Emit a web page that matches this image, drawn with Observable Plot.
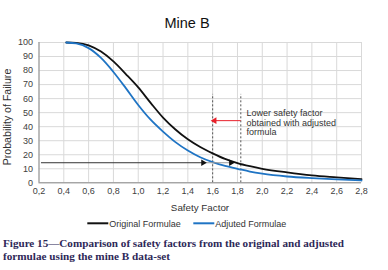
<!DOCTYPE html>
<html>
<head>
<meta charset="utf-8">
<script src="https://cdn.jsdelivr.net/npm/d3@7"></script>
<script src="https://cdn.jsdelivr.net/npm/@observablehq/plot@0.6"></script>
<style>
  html, body { margin: 0; padding: 0; background: #fff; }
  #chart { position: relative; width: 388px; height: 270px; overflow: hidden; }
  #chart svg { font-family: "Liberation Sans", Arial, sans-serif; }
</style>
</head>
<body>
<div id="chart"></div>
<script>
// ---- data ----
const xTicks = [0.2, 0.4, 0.6, 0.8, 1.0, 1.2, 1.4, 1.6, 1.8, 2.0, 2.2, 2.4, 2.6, 2.8];
const yTicks = [0, 10, 20, 30, 40, 50, 60, 70, 80, 90, 100];

const sfOriginal = [0.42, 0.5, 0.6, 0.7, 0.8, 0.9, 1.0, 1.1, 1.2, 1.3, 1.4, 1.5, 1.6, 1.7, 1.8, 1.9, 2.0, 2.2, 2.4, 2.6, 2.8];
const pfOriginal = [100, 99.7, 98, 93.5, 86.5, 77.5, 68, 57, 46.5, 38, 31, 25.5, 21, 17, 14, 11.8, 10, 7.4, 5.3, 3.9, 2.6];

const sfAdjusted = [0.42, 0.5, 0.6, 0.7, 0.8, 0.9, 1.0, 1.1, 1.2, 1.3, 1.4, 1.5, 1.6, 1.7, 1.8, 1.9, 2.0, 2.2, 2.4, 2.6, 2.8];
const pfAdjusted = [100, 99.3, 96, 89, 79, 67.5, 55.5, 45, 36.5, 29, 23, 18.2, 14.7, 12, 10, 8, 6.5, 4.5, 3.3, 2.4, 1.7];

const seriesNames = ["Original Formulae", "Adjuted Formulae"];
const seriesColors = ["#111111", "#1f74c4"];

// annotation values (in data units)
const markerSF = [1.6, 1.827];
const markerTop = 63;
const readLevel = 14.3;
const readStart = 0.22;
const readAdjusted = 1.535;
const readOriginal = 1.76;
const redArrowY = 44.3;
const redArrowFrom = 1.83;
const redArrowTo = 1.615;
const noteX = 1.873;
const noteY = 43;
const noteText = "Lower safety factor\nobtained with adjusted\nformula";

const titleText = "Mine B";
const xLabel = "Safety Factor";
const yLabel = "Probability of Failure";
const captionLines = [
  "Figure 15\u2014Comparison of safety factors from the original and adjusted",
  "formulae using the mine B data-set"
];

const rows = [
  ...sfOriginal.map((x, i) => ({x, y: pfOriginal[i], s: seriesNames[0]})),
  ...sfAdjusted.map((x, i) => ({x, y: pfAdjusted[i], s: seriesNames[1]}))
];

const fmt = d => d.toFixed(1).replace(".", ",");

const plot = Plot.plot({
  width: 388,
  height: 270,
  marginLeft: 38.5,
  marginRight: 27,
  marginTop: 42,
  marginBottom: 87.7,
  style: {fontFamily: "Liberation Sans, Arial, sans-serif", background: "#fff"},
  x: {domain: [0.2, 2.8]},
  y: {domain: [0, 100]},
  color: {domain: seriesNames, range: seriesColors},
  marks: [
    Plot.gridX(xTicks, {stroke: "#d9d9d9", strokeOpacity: 1}),
    Plot.gridY(yTicks, {stroke: "#d9d9d9", strokeOpacity: 1}),
    Plot.axisX(xTicks, {tickSize: 0, tickPadding: 5, tickFormat: fmt, fontSize: 9, color: "#404040", label: null}),
    Plot.axisY(yTicks, {tickSize: 0, tickPadding: 6, fontSize: 9, color: "#404040", label: null}),
    Plot.ruleX(markerSF, {y1: 0, y2: markerTop, stroke: "#555", strokeDasharray: "2,2", strokeWidth: 1}),
    Plot.line(rows, {x: "x", y: "y", z: "s", stroke: "s", strokeWidth: 1.8, curve: "monotone-x"}),
    Plot.ruleY([readLevel], {x1: readStart, x2: readAdjusted, stroke: "#333", strokeWidth: 1}),
    Plot.ruleY([readLevel], {x1: readAdjusted, x2: readOriginal, stroke: "#999", strokeWidth: 1}),
    Plot.dot([readAdjusted, readOriginal], {x: d => d - 0.012, y: () => readLevel, symbol: "triangle", rotate: 90, r: 2.4, fill: "#111", stroke: null}),
    Plot.ruleY([redArrowY], {x1: redArrowTo, x2: redArrowFrom, stroke: "#e8202a", strokeWidth: 1}),
    Plot.dot([redArrowTo], {x: d => d, y: () => redArrowY, symbol: "triangle", rotate: -90, r: 2.5, fill: "#e8202a", stroke: null}),
    Plot.text([noteText], {x: () => noteX, y: () => noteY, text: d => d, textAnchor: "start", lineAnchor: "middle", fontSize: 9, lineHeight: 1.08, fill: "#333"}),
    Plot.ruleX([0.2], {stroke: "#8c8c8c", strokeWidth: 1}),
    Plot.ruleY([0], {stroke: "#8c8c8c", strokeWidth: 1})
  ]
});

document.getElementById("chart").appendChild(plot);

// titles, legend, caption
const svg = d3.select(plot);
svg.append("text").attr("x", 187).attr("y", 27.5).attr("text-anchor", "middle")
  .attr("font-size", 14.5).attr("fill", "#111").text(titleText);
svg.append("text").attr("x", 200).attr("y", 210.5).attr("text-anchor", "middle")
  .attr("font-size", 9.8).attr("fill", "#333").text(xLabel);
svg.append("text").attr("transform", "translate(10.5,117) rotate(-90)").attr("text-anchor", "middle")
  .attr("font-size", 10.6).attr("fill", "#333").text(yLabel);

const legendX = [87.3, 193.3];
seriesNames.forEach((name, i) => {
  svg.append("line").attr("x1", legendX[i]).attr("x2", legendX[i] + 21)
    .attr("y1", 223.3).attr("y2", 223.3).attr("stroke", seriesColors[i]).attr("stroke-width", 2);
  svg.append("text").attr("x", legendX[i] + 22).attr("y", 226.5).attr("text-anchor", "start")
    .attr("font-size", 9).attr("fill", "#333").text(name);
});

captionLines.forEach((line, i) => {
  const t = svg.append("text").attr("x", 3).attr("y", 247.3 + i * 12.7).attr("text-anchor", "start")
    .attr("font-family", "Liberation Serif, Times New Roman, serif")
    .attr("font-weight", "bold").attr("font-size", 11.2)
    .attr("fill", "#2e2858").text(line);
  if (i === 0) t.attr("textLength", 341).attr("lengthAdjust", "spacingAndGlyphs");
  else t.attr("textLength", 167).attr("lengthAdjust", "spacingAndGlyphs");
});
</script>
</body>
</html>
